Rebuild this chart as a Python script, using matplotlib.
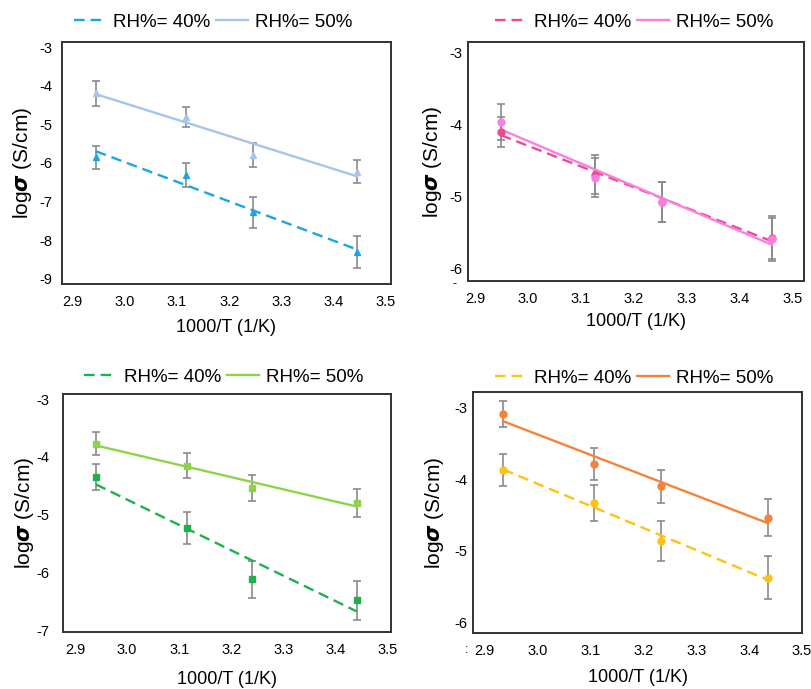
import numpy as np
import matplotlib.pyplot as plt

plt.rcParams['font.family'] = ['Liberation Sans', 'DejaVu Sans']
plt.rcParams['mathtext.fontset'] = 'dejavusans'
plt.rcParams['axes.unicode_minus'] = False

# Data: 1000/T and log(sigma) at two humidities, one sample per panel
x_blue = [2.945, 3.117, 3.245, 3.445]
blue_40 = [-5.85, -6.31, -7.27, -8.30]
blue_40_err = [0.30, 0.32, 0.40, 0.42]
blue_50 = [-4.20, -4.80, -5.79, -6.22]
blue_50_err = [0.32, 0.26, 0.32, 0.31]

x_pink = [2.949, 3.126, 3.253, 3.460]
pink_40 = [-4.10, -4.70, -5.08, -5.58]
pink_40_err = [0.21, 0.27, 0.28, 0.30]
pink_50 = [-3.97, -4.74, -5.08, -5.60]
pink_50_err = [0.25, 0.27, 0.28, 0.30]

x_green = [2.940, 3.114, 3.240, 3.440]
green_40 = [-4.35, -5.23, -6.12, -6.48]
green_40_err = [0.23, 0.28, 0.32, 0.34]
green_50 = [-3.77, -4.15, -4.54, -4.80]
green_50_err = [0.20, 0.22, 0.23, 0.24]

x_orange = [2.935, 3.107, 3.233, 3.436]
orange_40 = [-3.87, -4.33, -4.87, -5.38]
orange_40_err = [0.22, 0.25, 0.28, 0.30]
orange_50 = [-3.09, -3.79, -4.10, -4.54]
orange_50_err = [0.18, 0.22, 0.23, 0.26]

W, H = 811, 689
fig = plt.figure(figsize=(W / 100, H / 100), dpi=100)


def rect(l, t, r, b):
    return [l / W, 1 - b / H, (r - l) / W, (b - t) / H]


panels = [
    dict(box=(62, 42, 391, 284), xlim=(2.880, 3.510), ylim=(-9.13, -2.87),
         yticks=range(-3, -10, -1), x=x_blue, marker='^', ypad=7,
         s40=(blue_40, blue_40_err, '#1aa6e4'), s50=(blue_50, blue_50_err, '#a6c5e8'),
         leg=(213, 22), ylab_x=22, xlab_y=327),
    dict(box=(468, 42, 804, 281), xlim=(2.887, 3.521), ylim=(-6.18, -2.85),
         yticks=range(-3, -7, -1), x=x_pink, marker='o', ypad=4,
         s40=(pink_40, pink_40_err, '#ea4c93'), s50=(pink_50, pink_50_err, '#fb7fe0'),
         leg=(634, 22), ylab_x=433, xlab_y=322),
    dict(box=(63, 394, 391, 632), xlim=(2.877, 3.506), ylim=(-7.03, -2.91),
         yticks=range(-3, -8, -1), x=x_green, marker='s', ypad=10,
         s40=(green_40, green_40_err, '#1db14e'), s50=(green_50, green_50_err, '#8ed24c'),
         leg=(224, 377), ylab_x=25, xlab_y=680),
    dict(box=(473, 392, 802, 633), xlim=(2.878, 3.500), ylim=(-6.15, -2.78),
         yticks=range(-3, -7, -1), x=x_orange, marker='o', ypad=4,
         s40=(orange_40, orange_40_err, '#ffc113'), s50=(orange_50, orange_50_err, '#f5823a'),
         leg=(634, 378), ylab_x=435, xlab_y=678),
]

for p in panels:
    ax = fig.add_axes(rect(*p['box']))
    x = np.array(p['x'])
    handles = []
    for key, ls, lab in [('s40', (0, (4.5, 2.5)), 'RH%= 40%'), ('s50', '-', 'RH%= 50%')]:
        y, err, c = p[key]
        y = np.array(y)
        ax.errorbar(x, y, yerr=err, fmt='none', ecolor='#8a8a8a', elinewidth=1.2,
                    capsize=2.6, capthick=1.2, zorder=2)
        ax.plot(x, y, p['marker'], color=c, markersize=5, zorder=4)
        k, b = np.polyfit(x, y, 1)
        xf = np.array([x[0], x[-1]])
        h, = ax.plot(xf, k * xf + b, color=c, lw=1.7, linestyle=ls, label=lab, zorder=3)
        handles.append(h)

    ax.set_xlim(*p['xlim'])
    ax.set_ylim(*p['ylim'])
    ax.set_xticks([2.9, 3.0, 3.1, 3.2, 3.3, 3.4, 3.5])
    ax.set_xticklabels(['2.9', '3.0', '3.1', '3.2', '3.3', '3.4', '3.5'])
    ax.set_yticks(list(p['yticks']))
    ax.tick_params(length=0, labelsize=10.5)
    ax.tick_params(axis='x', pad=8)
    ax.tick_params(axis='y', pad=p['ypad'])
    for sp in ax.spines.values():
        sp.set_linewidth(1.4)
        sp.set_color('#333333')

    l, t, r, bt = p['box']
    fig.text(p['ylab_x'] / W, 1 - (t + bt) / 2 / H, r'log$\boldsymbol{\sigma}$ (S/cm)',
             rotation=90, ha='center', va='center', fontsize=15)
    fig.text((l + r) / 2 / W, 1 - p['xlab_y'] / H, '1000/T (1/K)',
             ha='center', va='center', fontsize=13)

    lx, ly = p['leg']
    fig.legend(handles=handles, loc='center', bbox_to_anchor=(lx / W, 1 - ly / H),
               ncol=2, frameon=False, fontsize=13.5, handlelength=1.7,
               handletextpad=0.4, columnspacing=0.3, borderaxespad=0)

# stray leftover glyphs beside the right-hand panels
fig.text(454 / W, 1 - 284 / H, '-', ha='center', va='center', fontsize=9)
fig.text(467 / W, 1 - 650 / H, ':', ha='center', va='center', fontsize=9)

fig.savefig('out.png', dpi=100)
